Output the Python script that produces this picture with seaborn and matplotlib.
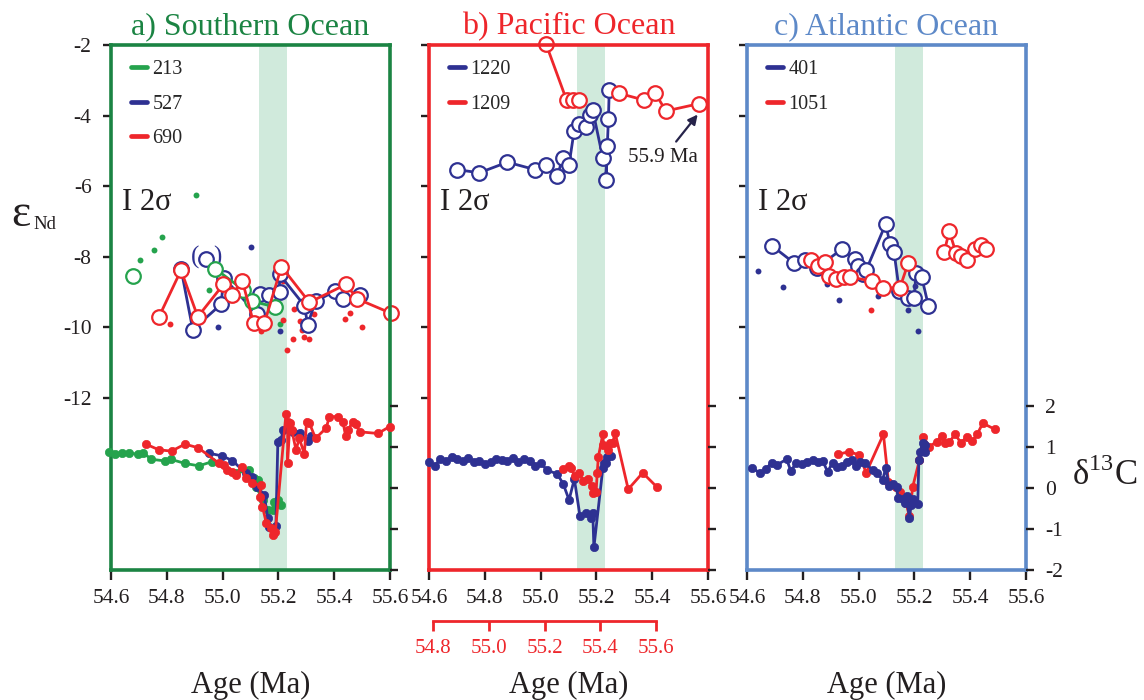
import matplotlib
matplotlib.use("Agg")
import matplotlib.pyplot as plt
import seaborn as sns
from matplotlib.lines import Line2D

# ------------------------------------------------------------------ data
AGE_TICKS = [54.6, 54.8, 55.0, 55.2, 55.4, 55.6]
AGE_TICK_LABELS = ["54.6", "54.8", "55.0", "55.2", "55.4", "55.6"]
AGE2_TICKS = [54.8, 55.0, 55.2, 55.4, 55.6]          # site 1209 own age scale
AGE2_TICK_LABELS = ["54.8", "55.0", "55.2", "55.4", "55.6"]
AGE2_OFFSET = 0.186
ND_TICKS = [-2, -4, -6, -8, -10, -12]
ND_TICK_LABELS = ["-2", "-4", "-6", "-8", "-10", "-12"]
C13_TICKS = [2, 1, 0, -1, -2]
C13_TICK_LABELS = ["2", "1", "0", "-1", "-2"]
PETM_BAND = [55.13, 55.23]

TITLES = ["a) Southern Ocean", "b) Pacific Ocean", "c) Atlantic Ocean"]

# ---- a) Southern Ocean : eNd
a213_nd_age = [54.974, 55.073, 55.105, 55.189]
a213_nd = [-8.34, -8.93, -9.26, -9.42]
a213_nd_iso_age = [54.678]
a213_nd_iso = [-8.53]
a213_dot_age = [54.904, 54.783, 54.753, 54.703, 54.953, 55.207]
a213_dot = [-6.26, -7.45, -7.81, -8.08, -8.93, -9.89]

a527_nd_age = [54.851, 54.893, 54.994, 55.005, 55.123, 55.133, 55.165, 55.204, 55.204,
               55.293, 55.305, 55.333, 55.404, 55.432, 55.494]
a527_nd = [-8.34, -10.06, -9.35, -8.60, -9.63, -9.04, -9.09, -9.00, -8.50,
           -9.38, -9.92, -9.26, -8.97, -9.19, -9.07]
a527_paren_age = [54.941]
a527_paren = [-8.06]
a527_dot_age = [55.100, 54.982, 55.207]
a527_dot = [-7.73, -10.0, -10.1]

a690_nd_age = [54.772, 54.851, 54.911, 55.003, 55.033, 55.071, 55.111, 55.150, 55.211,
               55.311, 55.443, 55.482, 55.604]
a690_nd = [-9.70, -8.38, -9.70, -8.78, -9.09, -8.69, -9.87, -9.87, -8.28,
           -9.29, -8.78, -9.19, -9.60]
a690_dot_age = [54.81, 55.139, 55.217, 55.217, 55.257, 55.252, 55.23, 55.279, 55.285,
                55.293, 55.311, 55.326, 55.458, 55.438, 55.50]
a690_dot = [-9.89, -10.09, -8.69, -9.78, -9.47, -10.34, -10.63, -9.81, -10.07,
            -10.28, -10.34, -9.63, -9.59, -9.76, -10.0]

# ---- a) Southern Ocean : d13C
a213_c_age = [54.593, 54.613, 54.641, 54.665, 54.695, 54.715, 54.745, 54.794, 54.814,
              54.865, 54.915, 54.961, 55.047, 55.095, 55.113, 55.128, 55.120, 55.144,
              55.162, 55.180, 55.186, 55.198, 55.210]
a213_c = [0.87, 0.82, 0.86, 0.86, 0.82, 0.86, 0.70, 0.66, 0.70,
          0.60, 0.54, 0.64, 0.36, 0.44, 0.24, 0.20, 0.03, -0.29,
          -0.54, -0.54, -0.33, -0.29, -0.41]
a527_c_age = [54.951, 54.999, 55.035, 55.083, 55.107, 55.125, 55.149, 55.162, 55.167,
              55.191, 55.198, 55.210, 55.216, 55.252, 55.276, 55.306, 55.318]
a527_c = [0.85, 0.78, 0.67, 0.36, 0.28, 0.03, -0.17, -0.74, -0.94,
          -0.93, 1.13, 1.17, 1.41, 1.37, 1.33, 1.15, 1.27]
a690_c_age = [54.725, 54.772, 54.817, 54.865, 54.913, 54.987, 55.005, 55.017, 55.035,
              55.047, 55.069, 55.083, 55.107, 55.137, 55.133, 55.143, 55.157, 55.173,
              55.181, 55.189, 55.227, 55.233, 55.233, 55.241, 55.248, 55.263, 55.275,
              55.293, 55.301, 55.311, 55.333, 55.371, 55.383, 55.413, 55.431, 55.441,
              55.449, 55.467, 55.477, 55.491, 55.557, 55.599]
a690_c = [1.07, 0.93, 0.90, 1.07, 0.98, 0.60, 0.56, 0.45, 0.40,
          0.32, 0.52, 0.24, 0.11, 0.07, -0.21, -0.46, -0.86, -0.98,
          -1.15, -1.07, 1.80, 1.62, 0.60, 1.58, 1.41, 0.93, 1.21,
          0.83, 1.62, 1.59, 1.21, 1.46, 1.74, 1.74, 1.62, 1.27,
          1.41, 1.62, 1.55, 1.37, 1.33, 1.50]

# ---- b) Pacific Ocean : eNd
b1220_nd_age = [54.701, 54.780, 54.881, 54.980, 55.019, 55.060, 55.079, 55.102, 55.120,
                55.139, 55.162, 55.177, 55.187, 55.223, 55.237, 55.234, 55.243, 55.246]
b1220_nd = [-5.53, -5.62, -5.32, -5.53, -5.41, -5.72, -5.20, -5.39, -4.44,
            -4.25, -4.33, -3.97, -3.85, -5.20, -4.85, -5.83, -4.11, -3.28]
b1209_nd_age_1 = [55.019, 55.093, 55.115, 55.139]
b1209_nd_1 = [-1.96, -3.56, -3.56, -3.56]
b1209_nd_age_2 = [55.281, 55.371, 55.410, 55.449, 55.569]
b1209_nd_2 = [-3.37, -3.56, -3.35, -3.87, -3.66]

# ---- b) Pacific Ocean : d13C
b1220_c_age = [54.601, 54.622, 54.639, 54.661, 54.681, 54.701, 54.721, 54.741, 54.761,
               54.780, 54.801, 54.821, 54.840, 54.861, 54.881, 54.902, 54.920, 54.940,
               54.962, 54.980, 55.000, 55.022, 55.060, 55.081, 55.102, 55.121, 55.141,
               55.162, 55.180, 55.187, 55.191, 55.223, 55.227, 55.234, 55.239, 55.251]
b1220_c = [0.63, 0.54, 0.71, 0.66, 0.75, 0.70, 0.67, 0.74, 0.64,
           0.66, 0.58, 0.63, 0.70, 0.68, 0.67, 0.74, 0.63, 0.70,
           0.67, 0.54, 0.62, 0.44, 0.34, 0.10, -0.29, 0.22, -0.68,
           -0.60, -0.72, -0.60, -1.45, 0.48, 0.62, 0.60, 0.75, 0.79]
b1209_c_age = [55.079, 55.102, 55.108, 55.123, 55.139, 55.153, 55.169, 55.183, 55.189,
               55.199, 55.203, 55.207, 55.223, 55.225, 55.243, 55.249, 55.258, 55.267,
               55.314, 55.366, 55.416]
b1209_c = [0.46, 0.54, 0.48, 0.29, 0.37, 0.17, 0.22, 0.05, -0.13,
           -0.09, 0.37, 0.76, 1.31, 1.05, 0.93, 1.09, 1.09, 1.35,
           -0.03, 0.37, 0.03]

# ---- c) Atlantic Ocean : eNd
c401_nd_age = [54.688, 54.768, 54.808, 54.850, 54.939, 54.987, 54.999, 55.017, 55.027,
               55.097, 55.113, 55.127, 55.146, 55.178, 55.199, 55.206, 55.226, 55.250]
c401_nd = [-7.68, -8.17, -8.08, -8.31, -7.79, -8.06, -8.27, -8.50, -8.38,
           -7.07, -7.65, -7.86, -8.97, -9.16, -9.16, -8.45, -8.57, -9.38]
c401_dot_age = [54.641, 54.728, 54.888, 54.931, 55.071, 55.178, 55.214, 55.202]
c401_dot = [-8.39, -8.85, -8.78, -9.21, -9.11, -9.52, -10.11, -8.83]
c1051_nd_age_1 = [54.828, 54.856, 54.880, 54.895, 54.919, 54.948, 54.969, 55.047,
                  55.089, 55.148, 55.178]
c1051_nd_1 = [-8.08, -8.27, -8.14, -8.55, -8.64, -8.57, -8.57, -8.69,
              -8.88, -8.88, -8.17]
c1051_nd_age_2 = [55.307, 55.325, 55.349, 55.367, 55.387, 55.417, 55.438, 55.457]
c1051_nd_2 = [-7.86, -7.27, -7.89, -7.98, -8.08, -7.77, -7.67, -7.77]
c1051_dot_age = [55.044]
c1051_dot = [-9.52]

# ---- c) Atlantic Ocean : d13C
c401_c_age = [54.617, 54.647, 54.668, 54.688, 54.706, 54.742, 54.757, 54.776, 54.796,
              54.814, 54.835, 54.856, 54.871, 54.889, 54.907, 54.924, 54.939, 54.957,
              54.975, 54.991, 55.005, 55.023, 55.051, 55.067, 55.086, 55.097, 55.110,
              55.124, 55.136, 55.142, 55.160, 55.166, 55.172, 55.182, 55.188, 55.196,
              55.212, 55.216, 55.220, 55.230, 55.238, 55.238]
c401_c = [0.50, 0.36, 0.46, 0.62, 0.56, 0.70, 0.42, 0.60, 0.59,
          0.64, 0.68, 0.64, 0.66, 0.40, 0.62, 0.52, 0.54, 0.64,
          0.68, 0.54, 0.64, 0.60, 0.44, 0.36, 0.20, 0.48, 0.05,
          0.10, 0.02, -0.25, -0.28, -0.37, -0.20, -0.74, -0.41, -0.28,
          -0.39, 0.68, 0.89, 1.09, 1.05, 0.89]
c1051_c_age = [54.927, 54.967, 55.003, 55.027, 55.089, 55.107, 55.134, 55.148, 55.170,
               55.182, 55.194, 55.218, 55.232, 55.253, 55.280, 55.298, 55.310, 55.325,
               55.346, 55.367, 55.387, 55.408, 55.425, 55.445, 55.489]
c1051_c = [0.82, 0.89, 0.80, 0.37, 1.31, 0.15, 0.03, -0.09, -0.37,
           -0.68, 0.03, 0.68, 1.25, 1.01, 1.13, 1.28, 1.09, 1.11,
           1.32, 1.09, 1.25, 1.15, 1.31, 1.58, 1.43]

# ------------------------------------------------------------------ style
sns.set_style("white")
plt.rcParams["font.family"] = ["Liberation Serif", "DejaVu Serif"]
plt.rcParams["mathtext.fontset"] = "custom"
plt.rcParams["mathtext.rm"] = "Liberation Serif"

GREEN_FRAME = "#1b8443"
RED = "#ee262b"
BLUE_FRAME = "#5d89c8"
NAVY = "#2e3192"
GREEN = "#25a34d"
BAND = "#d0eadc"
INK = "#231f20"

W, H = 1144, 700
fig = plt.figure(figsize=(W / 100, H / 100), dpi=100)
LEFTS = [111, 429, 747]
AX_W, AX_TOP, AX_BOT = 279, 45, 570
ND_MIN = -2 - (AX_BOT - AX_TOP) / 35.3
C13_MAX = 2 + (406 - AX_TOP) / 41.0
FRAMES = [GREEN_FRAME, RED, BLUE_FRAME]
TICK_FS = 15.5


def nd_open(ax, x, y, color, z=4):
    sns.lineplot(x=x, y=y, ax=ax, color=color, sort=False, estimator=None, legend=False,
                 linewidth=2.0, marker="o", markersize=10.5, markerfacecolor="white",
                 markeredgecolor=color, markeredgewidth=1.6, zorder=z, clip_on=False)


def nd_iso(ax, x, y, color, z=4):
    sns.lineplot(x=x, y=y, ax=ax, color=color, sort=False, estimator=None, legend=False,
                 linewidth=0, marker="o", markersize=10.5, markerfacecolor="white",
                 markeredgecolor=color, markeredgewidth=1.6, zorder=z, clip_on=False)


def dots(ax, x, y, color):
    sns.scatterplot(x=x, y=y, ax=ax, color=color, s=18, linewidth=0, legend=False, zorder=3)


def c13(ax, x, y, color, z=3):
    sns.lineplot(x=x, y=y, ax=ax, color=color, sort=False, estimator=None, legend=False,
                 linewidth=2.0, marker="o", markersize=6.0, markerfacecolor=color,
                 markeredgecolor=color, markeredgewidth=0.5, zorder=z, clip_on=False)


def legend(ax, colors, labels):
    handles = [Line2D([], [], color=c, lw=3.4) for c in colors]
    ax.legend(handles, labels, loc="upper left", bbox_to_anchor=(0.03, 0.995),
              frameon=False, fontsize=14.5, handlelength=0.75, handletextpad=0.3,
              labelspacing=0.78, borderaxespad=0.2)


axes = []
for i, left in enumerate(LEFTS):
    ax = fig.add_axes([left / W, (H - AX_BOT) / H, AX_W / W, (AX_BOT - AX_TOP) / H])
    ax.set_xlim(AGE_TICKS[0], AGE_TICKS[-1])
    ax.set_ylim(ND_MIN, ND_TICKS[0])
    ax.axvspan(PETM_BAND[0], PETM_BAND[1], color=BAND, lw=0, zorder=0)
    ax2 = ax.twinx()
    ax2.set_ylim(C13_TICKS[-1], C13_MAX)
    ax.set_xticks(AGE_TICKS)
    ax.set_xticklabels(AGE_TICK_LABELS)
    ax.set_yticks(ND_TICKS)
    ax.set_yticklabels(ND_TICK_LABELS)
    ax2.set_yticks(C13_TICKS)
    ax2.set_yticklabels(C13_TICK_LABELS)
    ax.tick_params(axis="x", bottom=True, direction="out", length=7, width=1.7,
                   color=INK, labelcolor=INK, labelsize=TICK_FS, pad=7)
    ax.tick_params(axis="y", left=True, direction="out", length=6, width=1.7,
                   color=INK, labelcolor=INK, labelsize=TICK_FS, pad=8, labelleft=(i == 0))
    ax2.tick_params(axis="y", right=True, direction="out", length=6, width=1.7,
                    color=INK, labelcolor=INK, labelsize=TICK_FS, pad=8, labelright=(i == 2))
    for s in ax.spines.values():
        s.set_color(FRAMES[i])
        s.set_linewidth(2.6)
        s.set_zorder(6)
    for s in ax2.spines.values():
        s.set_visible(False)
    ax.set_xlabel("")
    ax.set_ylabel("")
    ax2.set_ylabel("")
    ax.text(0.5, 1.008, TITLES[i], transform=ax.transAxes, ha="center", va="bottom",
            fontsize=23, color=FRAMES[i])
    ax.text(0.5, -0.219, "Age (Ma)", transform=ax.transAxes, ha="center", va="center",
            fontsize=22, color=INK)
    ax.text(0.04, 0.70, "I 2σ", transform=ax.transAxes, ha="left", va="center",
            fontsize=22, color=INK)
    axes.append((ax, ax2))

# ---- panel a
ax, ax2 = axes[0]
c13(ax2, a213_c_age, a213_c, GREEN, 3)
c13(ax2, a527_c_age, a527_c, NAVY, 4)
c13(ax2, a690_c_age, a690_c, RED, 5)
dots(ax, a213_dot_age, a213_dot, GREEN)
dots(ax, a527_dot_age, a527_dot, NAVY)
dots(ax, a690_dot_age, a690_dot, RED)
nd_open(ax, a527_nd_age, a527_nd, NAVY, 4)
nd_iso(ax, a527_paren_age, a527_paren, NAVY, 4)
for k, ag in enumerate(a527_paren_age):
    ax.text(ag - 0.04, a527_paren[k] + 0.05, "(", ha="center", va="center", fontsize=18, color=NAVY)
    ax.text(ag + 0.04, a527_paren[k] + 0.05, ")", ha="center", va="center", fontsize=18, color=NAVY)
nd_open(ax, a213_nd_age, a213_nd, GREEN, 5)
nd_iso(ax, a213_nd_iso_age, a213_nd_iso, GREEN, 5)
nd_open(ax, a690_nd_age, a690_nd, RED, 6)
legend(ax, (GREEN, NAVY, RED), ["213", "527", "690"])

# ---- panel b
ax, ax2 = axes[1]
c13(ax2, b1220_c_age, b1220_c, NAVY, 3)
c13(ax2, b1209_c_age, b1209_c, RED, 4)
nd_open(ax, b1220_nd_age, b1220_nd, NAVY, 4)
nd_open(ax, b1209_nd_age_1, b1209_nd_1, RED, 5)
nd_open(ax, b1209_nd_age_2, b1209_nd_2, RED, 5)
ax.annotate("55.9 Ma", xy=(55.563, -3.97), xytext=(55.44, -5.19), ha="center", va="center",
            fontsize=15, color=INK,
            arrowprops=dict(arrowstyle="-|>", color="#26234a", lw=1.6, shrinkA=3, shrinkB=0,
                            mutation_scale=14))
legend(ax, (NAVY, RED), ["1220", "1209"])
sec = ax.secondary_xaxis((AX_BOT - 621) / (AX_BOT - AX_TOP),
                         functions=(lambda x: x + AGE2_OFFSET, lambda x: x - AGE2_OFFSET))
sec.set_xticks(AGE2_TICKS)
sec.set_xticklabels(AGE2_TICK_LABELS)
sec.spines["bottom"].set_color(RED)
sec.spines["bottom"].set_linewidth(2.0)
sec.spines["bottom"].set_bounds(AGE2_TICKS[0], AGE2_TICKS[-1])
sec.tick_params(axis="x", bottom=True, direction="out", length=7, width=2.0, color=RED,
                labelcolor=RED, labelsize=15, pad=6)

# ---- panel c
ax, ax2 = axes[2]
c13(ax2, c1051_c_age, c1051_c, RED, 3)
c13(ax2, c401_c_age, c401_c, NAVY, 4)
dots(ax, c401_dot_age, c401_dot, NAVY)
dots(ax, c1051_dot_age, c1051_dot, RED)
nd_open(ax, c401_nd_age, c401_nd, NAVY, 4)
nd_open(ax, c1051_nd_age_1, c1051_nd_1, RED, 5)
nd_open(ax, c1051_nd_age_2, c1051_nd_2, RED, 5)
legend(ax, (NAVY, RED), ["401", "1051"])

# ---- axis titles
fig.text(11 / W, 1 - 215 / H, "ε", ha="left", va="center", fontsize=33, color=INK)
fig.text(33 / W, 1 - 224 / H, "Nd", ha="left", va="center", fontsize=13.5, color=INK)
fig.text(1072 / W, 1 - 476 / H, r"δ$^{\mathrm{13}}$C", ha="left", va="center",
         fontsize=25, color=INK)

fig.savefig("out.png", dpi=100, facecolor="white")
